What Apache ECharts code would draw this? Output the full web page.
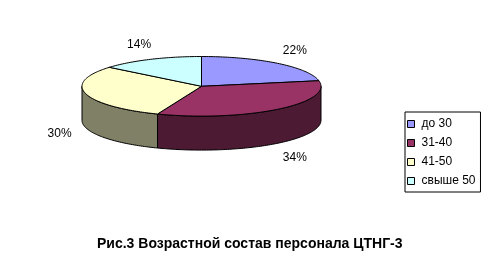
<!DOCTYPE html>
<html>
<head>
<meta charset="utf-8">
<script src="https://cdn.jsdelivr.net/npm/echarts@6/dist/echarts.min.js"></script>
<style>html,body{margin:0;padding:0;background:#fff;}#c{width:490px;height:266px;}</style>
</head>
<body>
<div id="c"></div>
<script>
const categories = ['до 30', '31-40', '41-50', 'свыше 50'];
const values = [22, 34, 30, 14];
const valueLabels = ['22%', '34%', '30%', '14%'];
const titleText = 'Рис.3 Возрастной состав персонала ЦТНГ-3';
const topColors = ['#9999FF', '#993366', '#FFFFCC', '#CCFFFF'];
const sideColors = ['#4D4D80', '#4D1A33', '#808066', '#668080'];

const FONT = '"Liberation Sans", Arial, sans-serif';
const geo = { cx: 201.5, cy: 86.3, rx: 119.5, ry: 29.8, depth: 34 };

const total = values.reduce((a, b) => a + b, 0);
const starts = [];
let acc = 0;
values.forEach(v => { starts.push(acc / total); acc += v; });

function pt(t, dy) {
  return [geo.cx + geo.rx * Math.sin(t), geo.cy - geo.ry * Math.cos(t) + (dy || 0)];
}
function arc(a, b, dy) {
  const pts = [];
  const n = Math.max(2, Math.ceil((b - a) / 0.02));
  for (let k = 0; k <= n; k++) pts.push(pt(a + (b - a) * k / n, dy));
  return pts;
}

function makeRender(i) {
  return function (params, api) {
    const a1 = api.value(0) * 2 * Math.PI;
    const a2 = api.value(1) * 2 * Math.PI;
    const children = [];
    const b1 = Math.max(a1, Math.PI / 2), b2 = Math.min(a2, 3 * Math.PI / 2);
    if (b1 < b2) {
      const topArc = arc(b1, b2, 0);
      const botArc = arc(b1, b2, geo.depth).reverse();
      children.push({
        type: 'polygon',
        shape: { points: topArc.concat(botArc) },
        style: { fill: sideColors[i], stroke: '#000', lineWidth: 1 }
      });
    }
    const top = [[geo.cx, geo.cy]].concat(arc(a1, a2, 0));
    children.push({
      type: 'polygon',
      shape: { points: top },
      style: { fill: topColors[i], stroke: '#000', lineWidth: 1 }
    });
    const m = (a1 + a2) / 2;
    let lx = geo.cx + (geo.rx + 27) * Math.sin(m);
    let ly = geo.cy - (geo.ry + 16) * Math.cos(m);
    if (Math.cos(m) < 0) ly += geo.depth + 2;
    children.push({
      type: 'text',
      style: {
        text: valueLabels[i], x: lx, y: ly, align: 'center', verticalAlign: 'middle',
        fill: '#000', font: '12px ' + FONT
      }
    });
    return { type: 'group', children: children };
  };
}

const series = categories.map((name, i) => ({
  type: 'custom',
  name: name,
  coordinateSystem: 'none',
  itemStyle: { color: topColors[i] },
  renderItem: makeRender(i),
  data: [[starts[i], starts[i] + values[i] / total]],
  silent: true
}));

const chart = echarts.init(document.getElementById('c'), null, { renderer: 'canvas' });
chart.setOption({
  animation: false,
  backgroundColor: '#fff',
  title: {
    text: titleText,
    left: 97, top: 237,
    padding: 0,
    textStyle: { fontFamily: FONT, fontSize: 14, fontWeight: 'bold', color: '#000' }
  },
  legend: {
    data: categories,
    orient: 'vertical',
    left: 405, top: 112,
    borderColor: '#000', borderWidth: 1, borderRadius: 0,
    padding: [5, 5, 4, 2],
    itemWidth: 7, itemHeight: 7, itemGap: 5,
    icon: 'rect',
    itemStyle: { borderColor: '#000', borderWidth: 1 },
    textStyle: { fontFamily: FONT, fontSize: 12, color: '#000', lineHeight: 14, padding: [0, 0, 0, 2] },
    selectedMode: false
  },
  series: series
});
</script>
</body>
</html>
